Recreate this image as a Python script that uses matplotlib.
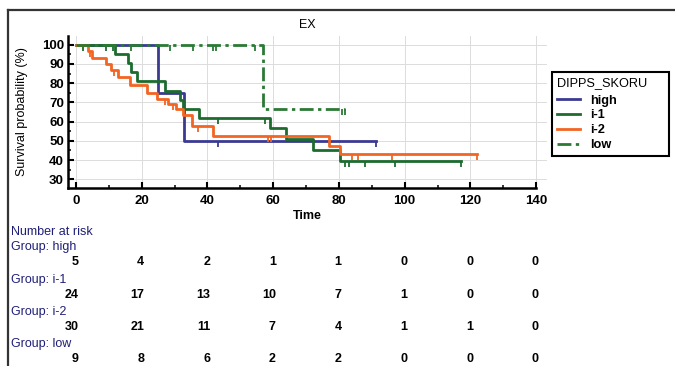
import numpy as np
import matplotlib
matplotlib.use('Agg')
import matplotlib.pyplot as plt
from matplotlib.lines import Line2D
from matplotlib.ticker import MultipleLocator
from matplotlib.transforms import blended_transform_factory

plt.rcParams['font.family'] = ['Liberation Sans', 'DejaVu Sans']

# Kaplan-Meier steps per DIPPS_SKORU group (time, survival %)
high_t = [0, 25.1, 33.0, 91.2]
high_s = [100, 75.0, 50.0, 50.0]
high_cens = [43.3, 91.2]

i1_t = [0, 12.0, 15.8, 16.8, 18.5, 27.2, 31.8, 32.7, 37.5, 59.0, 64.0, 72.0, 80.4, 117.0]
i1_s = [100, 95.2, 90.5, 85.7, 81.0, 76.0, 71.2, 66.5, 62.0, 56.5, 50.8, 45.2, 39.5, 39.5]
i1_cens = [2.2, 9.1, 11.2, 43.3, 57.5, 82.0, 83.0, 88.0, 97.0, 117.0]

i2_t = [0, 3.7, 5.0, 9.2, 10.6, 12.8, 16.5, 21.5, 24.7, 28.1, 30.6, 32.7, 35.2, 41.8, 77.0, 80.4, 122.0]
i2_s = [100, 96.7, 93.3, 90.0, 86.7, 83.3, 79.0, 75.0, 72.0, 69.4, 66.8, 63.2, 57.8, 52.5, 47.3, 43.3, 43.3]
i2_cens = [4.3, 11.5, 27.1, 29.6, 37.2, 58.3, 59.3, 83.9, 85.9, 96.1, 122.0]

low_t = [0, 57.0, 81.8]
low_s = [100, 66.7, 66.7]
low_cens = [16.9, 28.6, 35.6, 41.7, 42.5, 54.5, 81.0, 81.8]

group_names = ["high", "i-1", "i-2", "low"]
risk_times = [0, 20, 40, 60, 80, 100, 120, 140]
risk_high = [5, 4, 2, 1, 1, 0, 0, 0]
risk_i1 = [24, 17, 13, 10, 7, 1, 0, 0]
risk_i2 = [30, 21, 11, 7, 4, 1, 1, 0]
risk_low = [9, 8, 6, 2, 2, 0, 0, 0]


def surv_at(t, s, c):
    idx = np.searchsorted(t, c, side='right') - 1
    return np.asarray(s)[idx]


W, H = 675, 366
fig = plt.figure(figsize=(W / 100, H / 100), dpi=100)


def px(x, y):
    return x / W, 1 - y / H


ax = fig.add_axes([68 / W, 1 - 188 / H, (547 - 68) / W, (188 - 36) / H])

curves = [
    (high_t, high_s, high_cens, '#3a3a92', '-'),
    (i1_t, i1_s, i1_cens, '#1d6b2f', '-'),
    (i2_t, i2_s, i2_cens, '#f26522', '-'),
    (low_t, low_s, low_cens, '#2a7a34', (0, (5, 1.6, 1.2, 1.6))),
]

handles = []
for (t, s, c, col, ls), name in zip(curves, group_names):
    ln, = ax.step(t, s, where='post', color=col, lw=2.0, linestyle=ls, label=name)
    ax.plot(c, surv_at(t, s, c), linestyle='none', marker=3, markersize=4.5,
            markeredgewidth=1.3, color=col)
    handles.append(ln)

ax.set_xlim(-2.4, 143.3)
ax.set_ylim(25.5, 104.5)
ax.set_xticks(np.arange(0, 141, 20))
ax.set_yticks(np.arange(30, 101, 10))
ax.xaxis.set_minor_locator(MultipleLocator(10))
ax.yaxis.set_minor_locator(MultipleLocator(5))
ax.grid(True, which='major', color='#dcdcdc', lw=0.7)
ax.set_axisbelow(True)

for side in ['top', 'right']:
    ax.spines[side].set_visible(False)
ax.spines['left'].set_linewidth(1.8)
ax.spines['bottom'].set_linewidth(1.8)
ax.spines['bottom'].set_bounds(-2.4, 140)

ax.tick_params(which='major', direction='in', length=4.5, width=1.5, labelsize=9.5, pad=3)
ax.tick_params(which='minor', direction='in', length=2.5, width=1.1)
ax.tick_params(axis='x', which='major', pad=5)
for lbl in ax.get_xticklabels() + ax.get_yticklabels():
    lbl.set_fontweight('bold')

ax.set_title("EX", fontsize=9, pad=6)
ax.set_xlabel("Time", fontsize=9, fontweight='bold', labelpad=2)
ax.set_ylabel("Survival probability (%)", fontsize=9, labelpad=10)

leg = ax.legend(handles=handles, title="DIPPS_SKORU", loc='upper left',
                bbox_to_anchor=(552 / W, 1 - 154 / H, 117 / W, 82 / H),
                bbox_transform=fig.transFigure, mode='expand',
                borderaxespad=0, fontsize=9.2, title_fontsize=9.2, alignment='left',
                handlelength=1.8, handletextpad=0.8, labelspacing=0.22,
                borderpad=0.4, fancybox=False, framealpha=1)
leg.get_frame().set_edgecolor('black')
leg.get_frame().set_linewidth(1.5)
leg._legend_box.sep = 4
for txt in leg.get_texts():
    txt.set_fontweight('bold')

# number at risk table under the plot, columns follow the time axis
navy = '#1f1f78'
col_tr = blended_transform_factory(ax.transData, fig.transFigure)
fig.text(*px(11, 232), "Number at risk", color=navy, fontsize=9, va='center')
risk_rows = [risk_high, risk_i1, risk_i2, risk_low]
for g, (name, row) in enumerate(zip(group_names, risk_rows)):
    fig.text(*px(11, 247 + 32.5 * g), "Group: " + name, color=navy, fontsize=9, va='center')
    for tm, n in zip(risk_times, row):
        fig.text(tm + 0.8, 1 - (262 + 32.5 * g) / H, str(n), transform=col_tr,
                 fontsize=9, fontweight='bold', ha='right', va='center')

# frame lines along the top and left edge
fig.add_artist(Line2D([8 / W, 1], [1 - 9.5 / H] * 2, color='#333333', lw=1.6))
fig.add_artist(Line2D([8 / W] * 2, [1 - 9.5 / H, 0], color='#333333', lw=1.6))

fig.savefig("out.png", dpi=100)
